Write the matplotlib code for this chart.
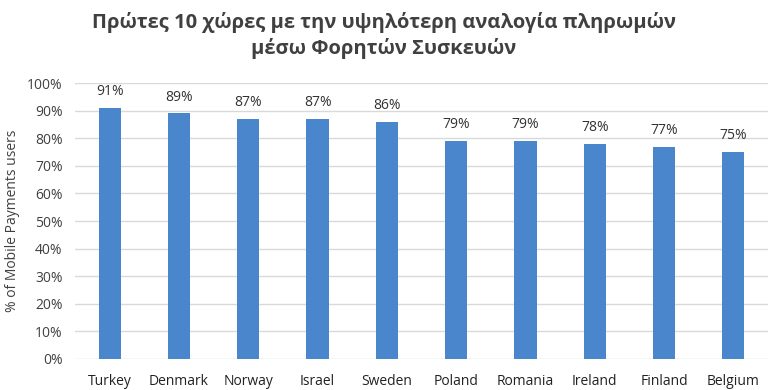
import matplotlib.pyplot as plt
import numpy as np

countries = ["Turkey", "Denmark", "Norway", "Israel", "Sweden",
             "Poland", "Romania", "Ireland", "Finland", "Belgium"]
shares = [91, 89, 87, 87, 86, 79, 79, 78, 77, 75]
yticks = [0, 10, 20, 30, 40, 50, 60, 70, 80, 90, 100]

plt.rcParams['font.family'] = ['Open Sans', 'DejaVu Sans']

fig = plt.figure(figsize=(7.68, 3.9), dpi=100)
ax = fig.add_axes([0.0977, 0.0795, 0.9023, 0.7075])

x = np.arange(len(countries))
ax.bar(x, shares, width=0.32, color='#4A86CB', zorder=3)
for xi, v in zip(x, shares):
    ax.text(xi, v + 3.2, f"{v}%", ha='center', va='bottom', fontsize=10, color='#333333')

ax.set_xlim(-0.5, len(countries) - 0.5)
ax.set_ylim(0, 100)
ax.set_yticks(yticks)
ax.set_yticklabels([f"{t}%" for t in yticks], fontsize=10, color='#404040')
ax.set_xticks(x)
ax.set_xticklabels(countries, fontsize=10, color='#222222')
ax.tick_params(axis='both', length=0)
ax.tick_params(axis='x', pad=11)
ax.tick_params(axis='y', pad=9)
ax.grid(axis='y', color='#D9D9D9', linewidth=1, zorder=0)
for s in ax.spines.values():
    s.set_visible(False)
ax.set_ylabel("% of Mobile Payments users", fontsize=10, color='#404040', labelpad=5)

fig.text(0.5, 0.968, "Πρώτες 10 χώρες με την υψηλότερη αναλογία πληρωμών\nμέσω Φορητών Συσκευών",
         ha='center', va='top', fontsize=14.5, fontweight='bold', color='#404040', linespacing=1.3)

fig.savefig("out.png", dpi=100)
